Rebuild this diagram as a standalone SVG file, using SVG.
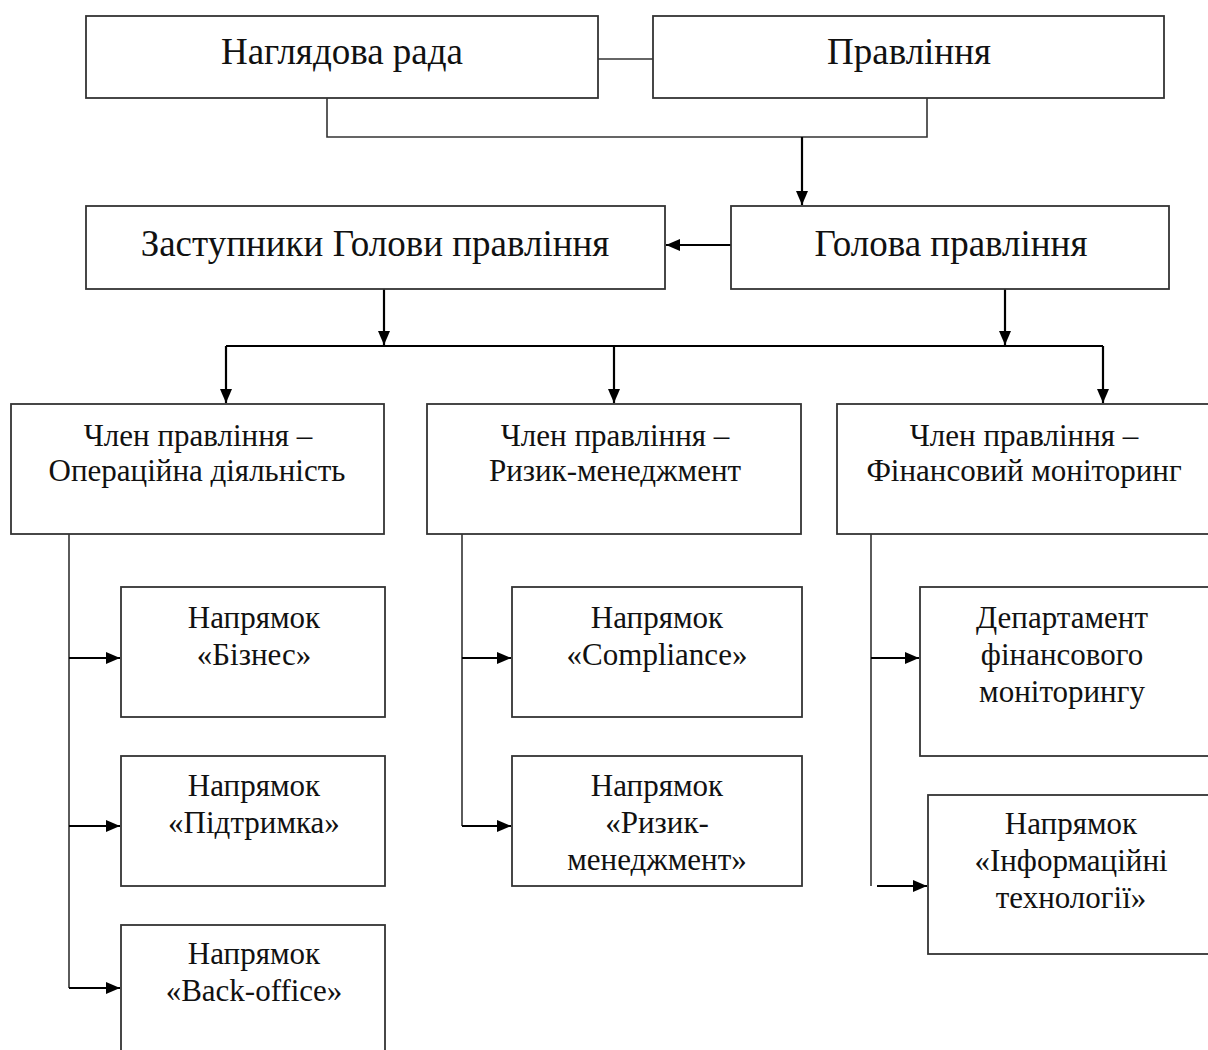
<svg xmlns="http://www.w3.org/2000/svg" width="1208" height="1050" viewBox="0 0 1208 1050">
<style>
.box{fill:#fff;stroke:#333;stroke-width:1.8}
.ln{fill:none;stroke:#333;stroke-width:1.6}
.ar{fill:none;stroke:#000;stroke-width:2.2}
text{font-family:"Liberation Serif","Times New Roman",serif;fill:#111;text-anchor:middle}
.t1{font-size:37px}
.t2{font-size:31px}
</style>
<defs>
<marker id="ah" viewBox="0 0 14 12" refX="14" refY="6" markerWidth="14" markerHeight="12" markerUnits="userSpaceOnUse" orient="auto">
<path d="M0,0 L14,6 L0,12 z" fill="#000"/>
</marker>
</defs>
<rect width="1208" height="1050" fill="#fff"/>
<g id="connectors">
<line class="ln" x1="598" y1="59" x2="653" y2="59"/>
<polyline class="ln" points="327,98 327,137 927,137 927,98"/>
<line class="ar" x1="802" y1="137" x2="802" y2="205" marker-end="url(#ah)"/>
<line class="ar" x1="731" y1="245" x2="666" y2="245" marker-end="url(#ah)"/>
<line class="ar" x1="384" y1="289" x2="384" y2="345" marker-end="url(#ah)"/>
<line class="ar" x1="1005" y1="289" x2="1005" y2="345" marker-end="url(#ah)"/>
<polyline class="ar" points="226,346 1103,346"/>
<line class="ar" x1="226" y1="346" x2="226" y2="403" marker-end="url(#ah)"/>
<line class="ar" x1="614" y1="346" x2="614" y2="403" marker-end="url(#ah)"/>
<line class="ar" x1="1103" y1="346" x2="1103" y2="403" marker-end="url(#ah)"/>
<line class="ln" x1="69" y1="534" x2="69" y2="988"/>
<line class="ar" x1="69" y1="658" x2="120" y2="658" marker-end="url(#ah)"/>
<line class="ar" x1="69" y1="826" x2="120" y2="826" marker-end="url(#ah)"/>
<line class="ar" x1="69" y1="988" x2="120" y2="988" marker-end="url(#ah)"/>
<line class="ln" x1="462" y1="534" x2="462" y2="826"/>
<line class="ar" x1="462" y1="658" x2="511" y2="658" marker-end="url(#ah)"/>
<line class="ar" x1="462" y1="826" x2="511" y2="826" marker-end="url(#ah)"/>
<line class="ln" x1="871" y1="534" x2="871" y2="886"/>
<line class="ar" x1="871" y1="658" x2="919" y2="658" marker-end="url(#ah)"/>
<line class="ar" x1="877" y1="886" x2="927" y2="886" marker-end="url(#ah)"/>
</g>
<g id="n1"><rect class="box" x="86" y="16" width="512" height="82"/><text class="t1" x="342" y="64">Наглядова рада</text></g>
<g id="n2"><rect class="box" x="653" y="16" width="511" height="82"/><text class="t1" x="909" y="64">Правління</text></g>
<g id="n3"><rect class="box" x="86" y="206" width="579" height="83"/><text class="t1" x="375" y="256">Заступники Голови правління</text></g>
<g id="n4"><rect class="box" x="731" y="206" width="438" height="83"/><text class="t1" x="951" y="256">Голова правління</text></g>
<g id="n5"><rect class="box" x="11" y="404" width="373" height="130"/><text class="t2" x="198" y="446">Член правління –</text><text class="t2" x="197" y="481">Операційна діяльність</text></g>
<g id="n6"><rect class="box" x="427" y="404" width="374" height="130"/><text class="t2" x="615" y="446">Член правління –</text><text class="t2" x="615" y="481">Ризик-менеджмент</text></g>
<g id="n7"><rect class="box" x="837" y="404" width="380" height="130"/><text class="t2" x="1024" y="446">Член правління –</text><text class="t2" x="1024" y="481">Фінансовий моніторинг</text></g>
<g id="n8"><rect class="box" x="121" y="587" width="264" height="130"/><text class="t2" x="254" y="628">Напрямок</text><text class="t2" x="254" y="665">«Бізнес»</text></g>
<g id="n9"><rect class="box" x="121" y="756" width="264" height="130"/><text class="t2" x="254" y="796">Напрямок</text><text class="t2" x="254" y="833">«Підтримка»</text></g>
<g id="n10"><rect class="box" x="121" y="925" width="264" height="140"/><text class="t2" x="254" y="964">Напрямок</text><text class="t2" x="254" y="1001">«Back-office»</text></g>
<g id="n11"><rect class="box" x="512" y="587" width="290" height="130"/><text class="t2" x="657" y="628">Напрямок</text><text class="t2" x="657" y="665">«Compliance»</text></g>
<g id="n12"><rect class="box" x="512" y="756" width="290" height="130"/><text class="t2" x="657" y="796">Напрямок</text><text class="t2" x="657" y="833">«Ризик-</text><text class="t2" x="657" y="870">менеджмент»</text></g>
<g id="n13"><rect class="box" x="920" y="587" width="300" height="169"/><text class="t2" x="1062" y="628">Департамент</text><text class="t2" x="1062" y="665">фінансового</text><text class="t2" x="1062" y="702">моніторингу</text></g>
<g id="n14"><rect class="box" x="928" y="795" width="300" height="159"/><text class="t2" x="1071" y="834">Напрямок</text><text class="t2" x="1071" y="871">«Інформаційні</text><text class="t2" x="1071" y="908">технології»</text></g>
</svg>
